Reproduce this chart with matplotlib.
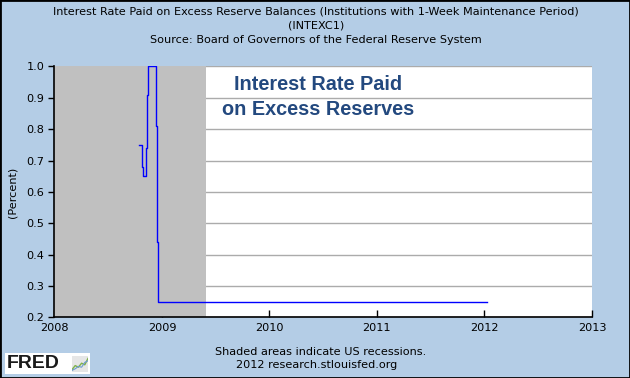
import numpy as np
import matplotlib
matplotlib.use('Agg')
import matplotlib.pyplot as plt
import matplotlib.dates as mdates
from matplotlib.patches import Rectangle
from datetime import datetime

# weekly-ish readings of INTEXC1 (percent)
dates = ['2008-10-15', '2008-10-24', '2008-10-26', '2008-10-30', '2008-11-08',
         '2008-11-12', '2008-11-15', '2008-12-11', '2008-12-15', '2008-12-19',
         '2012-01-11']
rates = [0.75, 0.73, 0.68, 0.65, 0.74, 0.91, 1.00, 0.81, 0.44, 0.25, 0.25]

recession_start = '2007-12-01'
recession_end = '2009-06-01'

years = [2008, 2009, 2010, 2011, 2012, 2013]
yticks = [0.2, 0.3, 0.4, 0.5, 0.6, 0.7, 0.8, 0.9, 1.0]

icon_x = [0, 1, 2, 3, 4, 5]
icon_green = [0.15, 0.4, 0.3, 0.55, 0.45, 0.85]
icon_blue = [0.1, 0.2, 0.35, 0.3, 0.6, 0.7]

BG = '#B4CDE6'
FS = 8.1
plt.rcParams['font.family'] = 'DejaVu Sans'

fig = plt.figure(figsize=(6.3, 3.78), dpi=100)
fig.patch.set_facecolor(BG)
ax = fig.add_axes([54.3 / 630, 1 - 317.3 / 378, (592 - 54.3) / 630, (317.3 - 66.5) / 378])
ax.set_facecolor('white')

x = [datetime.strptime(d, '%Y-%m-%d') for d in dates]
ax.axvspan(datetime.strptime(recession_start, '%Y-%m-%d'),
           datetime.strptime(recession_end, '%Y-%m-%d'),
           color='#C0C0C0', lw=0, zorder=1)
ax.plot(x, rates, color='#0000FF', lw=1.0, drawstyle='steps-post', zorder=3)

ax.set_xlim(datetime(2008, 1, 1), datetime(2013, 1, 1))
ax.set_ylim(0.2, 1.0)
ax.set_xticks([datetime(y, 1, 1) for y in years])
ax.xaxis.set_major_formatter(mdates.DateFormatter('%Y'))
ax.set_yticks(yticks)
ax.set_yticklabels(['%.1f' % v for v in yticks])
ax.grid(axis='y', color='#ABABAB', lw=1, zorder=0)
ax.set_axisbelow(True)

for s in ['top', 'right']:
    ax.spines[s].set_visible(False)
for s in ['left', 'bottom']:
    ax.spines[s].set_color('black')
    ax.spines[s].set_linewidth(1.2)
    ax.spines[s].set_zorder(4)
ax.tick_params(axis='x', direction='in', length=5, width=1, labelsize=FS, pad=4)
ax.tick_params(axis='y', direction='out', length=4, width=1, labelsize=FS, pad=3)
ax.set_ylabel('(Percent)', fontsize=FS)
ax.yaxis.set_label_coords(-0.068, 0.5)

ax.text(0.49, 0.965, 'Interest Rate Paid\non Excess Reserves', transform=ax.transAxes,
        ha='center', va='top', fontsize=14.3, fontweight='bold', color='#23497F',
        family='Liberation Sans', linespacing=1.39)

fig.text(316 / 630, 1 - 12 / 378,
         'Interest Rate Paid on Excess Reserve Balances (Institutions with 1-Week Maintenance Period)',
         ha='center', va='center', fontsize=FS)
fig.text(316 / 630, 1 - 26 / 378, '(INTEXC1)', ha='center', va='center', fontsize=FS)
fig.text(316 / 630, 1 - 40 / 378, 'Source: Board of Governors of the Federal Reserve System',
         ha='center', va='center', fontsize=FS)
fig.text(321 / 630, 1 - 352 / 378, 'Shaded areas indicate US recessions.',
         ha='center', va='center', fontsize=FS)
fig.text(317 / 630, 1 - 365 / 378, '2012 research.stlouisfed.org',
         ha='center', va='center', fontsize=FS)

# FRED logo
fig.patches.append(Rectangle((5 / 630, 1 - 374 / 378), 85 / 630, 21 / 378,
                             transform=fig.transFigure, facecolor='white', lw=0))
fig.text(7 / 630, 1 - 363.5 / 378, 'FRED', ha='left', va='center', fontsize=14,
         fontweight='bold', family='Liberation Sans', color='#1A1A1A')
icon = fig.add_axes([72 / 630, 1 - 372 / 378, 16 / 630, 16 / 378])
icon.set_zorder(5)
icon.set_facecolor('#E6E6E6')
icon.plot(icon_x, icon_green, color='#7FB24A', lw=1)
icon.plot(icon_x, icon_blue, color='#6C9AD0', lw=0.8)
icon.set_xlim(0, 5)
icon.set_ylim(0, 1)
icon.set_xticks([])
icon.set_yticks([])
for s in icon.spines.values():
    s.set_visible(False)

fig.patches.append(Rectangle((0, 0), 1, 1, transform=fig.transFigure,
                             fill=False, edgecolor='black', lw=2))

fig.savefig('out.png', dpi=100, facecolor=BG)
